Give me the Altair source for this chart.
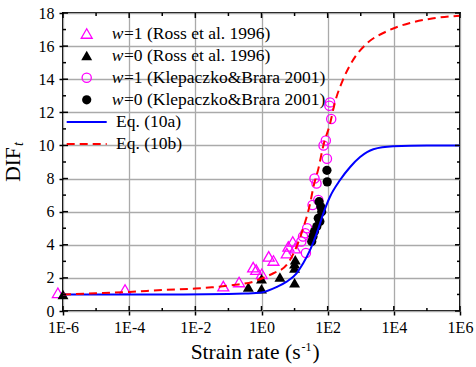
import altair as alt
import pandas as pd

# ---------------- data ----------------
ross_w1_rate = [7e-7, 7.5e-5, 0.07, 0.21, 0.56, 0.69, 1.02, 1.65, 2.3, 5.8, 6.5, 8.8, 10.3]
ross_w1_dif = [1.1, 1.3, 1.5, 1.75, 2.65, 2.5, 2.25, 3.3, 3.05, 3.5, 3.9, 4.2, 3.8]

ross_w0_rate = [1e-6, 0.4, 1.0, 1.0, 3.6, 10.0, 10.0, 10.0, 10.5]
ross_w0_dif = [1.0, 1.45, 1.95, 1.35, 2.05, 1.7, 2.6, 2.85, 3.1]

klep_w1_rate = [118, 113, 128, 88, 75, 95, 40, 46, 52, 35, 24, 21, 18, 16, 22]
klep_w1_dif = [12.6, 12.4, 11.6, 10.3, 10.0, 9.2, 8.0, 7.7, 6.7, 6.4, 5.0, 4.7, 4.5, 4.2, 3.5]

klep_w0_rate = [95, 97, 55, 62, 66, 52, 58, 47, 40, 36, 33]
klep_w0_dif = [8.5, 7.8, 6.6, 6.3, 6.0, 5.6, 5.4, 5.1, 4.8, 4.5, 4.2]

eq_a_log_rate = [-6, -3, -1, -0.5, 0, 0.46, 0.76, 1.06, 1.26, 1.47, 1.67, 1.87, 2.07, 2.37, 2.68, 2.98, 3.38, 3.98, 5, 6]
eq_a_dif = [1.0, 1.0, 1.02, 1.05, 1.12, 1.45, 1.77, 2.28, 2.88, 3.69, 4.69, 5.9, 6.9, 7.9, 8.7, 9.3, 9.77, 9.95, 10.0, 10.0]

eq_b_log_rate = [-6, -5, -4, -3, -2, -1.5, -0.85, -0.25, 0.16, 0.36, 0.76, 1.06, 1.26, 1.47, 1.57, 1.72, 1.87,
                 2.07, 2.22, 2.47, 2.78, 3.18, 3.79, 4.49, 5.2, 6]
eq_b_dif = [1.0, 1.07, 1.15, 1.27, 1.36, 1.43, 1.57, 1.77, 2.1, 2.28, 2.78, 3.89, 5.0, 6.5, 7.5, 8.6, 10.0,
            11.3, 12.6, 14.0, 15.2, 16.15, 16.9, 17.4, 17.68, 17.84]

x_major = [1e-6, 1e-4, 1e-2, 1e0, 1e2, 1e4, 1e6]
x_minor = [1e-5, 1e-3, 1e-1, 1e1, 1e3, 1e5]
y_major = [0, 2, 4, 6, 8, 10, 12, 14, 16, 18]
y_minor = [1, 3, 5, 7, 9, 11, 13, 15, 17]

legend_labels = ["=1 (Ross et al. 1996)", "=0 (Ross et al. 1996)",
                 "=1 (Klepaczko&Brara 2001)", "=0 (Klepaczko&Brara 2001)",
                 "Eq. (10a)", "Eq. (10b)"]

# ---------------- layout ----------------
W, H = 397, 298
SERIF = "Liberation Serif, Times New Roman, Times, DejaVu Serif, serif"
MAGENTA = "#ff00ff"

x_scale = alt.Scale(type="log", domain=[1e-6, 1e6], nice=False)
y_scale = alt.Scale(domain=[0, 18], nice=False)

x_axis = alt.Axis(values=x_major, labelExpr="'1E' + round(log(datum.value)/LN10)", title=None,
                  grid=True, gridColor="#aaaaaa", gridWidth=1.3, tickSize=4, tickWidth=1.5,
                  tickColor="black", labelFont=SERIF, labelFontSize=16, labelColor="black",
                  labelPadding=4, domain=False, labelFlush=False, labelOverlap=False)
y_axis = alt.Axis(values=y_major, title=None, grid=True, gridColor="#aaaaaa", gridWidth=1.3,
                  tickSize=4, tickWidth=1.5, tickColor="black", labelFont=SERIF, labelFontSize=16,
                  labelColor="black", labelPadding=5, domain=False, labelFlush=False,
                  labelOverlap=False)

X = alt.X("rate:Q", scale=x_scale, axis=x_axis)
Y = alt.Y("dif:Q", scale=y_scale, axis=y_axis)


def df(rates, difs):
    return pd.DataFrame({"rate": rates, "dif": difs})


ross_w1 = alt.Chart(df(ross_w1_rate, ross_w1_dif)).mark_point(
    shape="triangle-up", size=120, filled=False, stroke=MAGENTA, strokeWidth=1.3, opacity=1
).encode(x=X, y=Y)
ross_w0 = alt.Chart(df(ross_w0_rate, ross_w0_dif)).mark_point(
    shape="triangle-up", size=120, filled=True, color="black", opacity=1
).encode(x=X, y=Y)
klep_w1 = alt.Chart(df(klep_w1_rate, klep_w1_dif)).mark_point(
    shape="circle", size=85, filled=False, stroke=MAGENTA, strokeWidth=1.3, opacity=1
).encode(x=X, y=Y)
klep_w0 = alt.Chart(df(klep_w0_rate, klep_w0_dif)).mark_point(
    shape="circle", size=85, filled=True, color="black", opacity=1
).encode(x=X, y=Y)

eq_a = alt.Chart(df([10 ** v for v in eq_a_log_rate], eq_a_dif)).mark_line(
    color="#0000ff", strokeWidth=2, interpolate="monotone"
).encode(x=X, y=Y)
eq_b = alt.Chart(df([10 ** v for v in eq_b_log_rate], eq_b_dif)).mark_line(
    color="#ff0000", strokeWidth=2, strokeDash=[8, 5], interpolate="monotone"
).encode(x=X, y=Y)

# inward ticks on all four sides
def xticks(vals, y0, y1):
    return alt.Chart(pd.DataFrame({"rate": vals})).mark_rule(color="black", strokeWidth=1.5).encode(
        x=X, y=alt.value(y0), y2=alt.value(y1))


def yticks(vals, x0, x1):
    return alt.Chart(pd.DataFrame({"dif": vals})).mark_rule(color="black", strokeWidth=1.5).encode(
        y=Y, x=alt.value(x0), x2=alt.value(x1))


ticks = [
    xticks(x_major, H, H - 5), xticks(x_minor, H, H - 3),
    xticks(x_major, 0, 5), xticks(x_minor, 0, 3),
    yticks(y_major, 0, 5), yticks(y_minor, 0, 3),
    yticks(y_major, W, W - 5), yticks(y_minor, W, W - 3),
]

# legend (manual, to get the italic w)
row_y = [20.5 + 22.1 * i for i in range(6)]
sym_x = 23.7
one = pd.DataFrame({"a": [0]})
leg = []
leg.append(alt.Chart(one).mark_point(
    shape="triangle-up", size=120, filled=False, stroke=MAGENTA, strokeWidth=1.3, opacity=1
).encode(x=alt.value(sym_x), y=alt.value(row_y[0])))
leg.append(alt.Chart(one).mark_point(
    shape="triangle-up", size=120, filled=True, color="black", opacity=1
).encode(x=alt.value(sym_x), y=alt.value(row_y[1])))
leg.append(alt.Chart(one).mark_point(
    shape="circle", size=85, filled=False, stroke=MAGENTA, strokeWidth=1.3, opacity=1
).encode(x=alt.value(sym_x), y=alt.value(row_y[2])))
leg.append(alt.Chart(one).mark_point(
    shape="circle", size=85, filled=True, color="black", opacity=1
).encode(x=alt.value(sym_x), y=alt.value(row_y[3])))
leg.append(alt.Chart(one).mark_rule(color="#0000ff", strokeWidth=2).encode(
    x=alt.value(3.7), x2=alt.value(43.7), y=alt.value(row_y[4])))
leg.append(alt.Chart(one).mark_rule(color="#ff0000", strokeWidth=2, strokeDash=[8, 5]).encode(
    x=alt.value(3.7), x2=alt.value(43.7), y=alt.value(row_y[5])))
for i in range(4):
    leg.append(alt.Chart(one).mark_text(
        text="w", font=SERIF, fontStyle="italic", fontSize=17.5, align="left", baseline="middle",
        color="black").encode(x=alt.value(48.7), y=alt.value(row_y[i])))
    leg.append(alt.Chart(one).mark_text(
        text=legend_labels[i], font=SERIF, fontSize=17.5, align="left", baseline="middle",
        color="black").encode(x=alt.value(61), y=alt.value(row_y[i])))
for i in range(4, 6):
    leg.append(alt.Chart(one).mark_text(
        text=legend_labels[i], font=SERIF, fontSize=17.5, align="left", baseline="middle",
        color="black").encode(x=alt.value(53), y=alt.value(row_y[i])))

# axis titles
titles = [
    alt.Chart(one).mark_text(text="Strain rate (s", font=SERIF, fontSize=21.5, align="right",
                             baseline="alphabetic", color="black").encode(
        x=alt.value(237.5), y=alt.value(346)),
    alt.Chart(one).mark_text(text="-1", font=SERIF, fontSize=12, align="left",
                             baseline="alphabetic", color="black").encode(
        x=alt.value(238.5), y=alt.value(337.5)),
    alt.Chart(one).mark_text(text=")", font=SERIF, fontSize=21.5, align="left",
                             baseline="alphabetic", color="black").encode(
        x=alt.value(249.5), y=alt.value(346)),
    alt.Chart(one).mark_text(text="DIF", font=SERIF, fontSize=21.5, align="center",
                             baseline="middle", angle=270, color="black").encode(
        x=alt.value(-49), y=alt.value(151.5)),
    alt.Chart(one).mark_text(text="t", font=SERIF, fontSize=14, fontStyle="italic", align="center",
                             baseline="middle", angle=270, color="black").encode(
        x=alt.value(-44), y=alt.value(131)),
]

chart = alt.layer(
    ross_w1, ross_w0, klep_w1, klep_w0, eq_a, eq_b, *ticks, *leg, *titles
).properties(
    width=W, height=H,
    autosize=alt.AutoSizeParams(type="none"),
    padding={"left": 63, "top": 13, "right": 16, "bottom": 56},
    background="white",
).configure_view(stroke="black", strokeWidth=2)

chart.save("out.html", embed_options={"renderer": "svg", "actions": False})
